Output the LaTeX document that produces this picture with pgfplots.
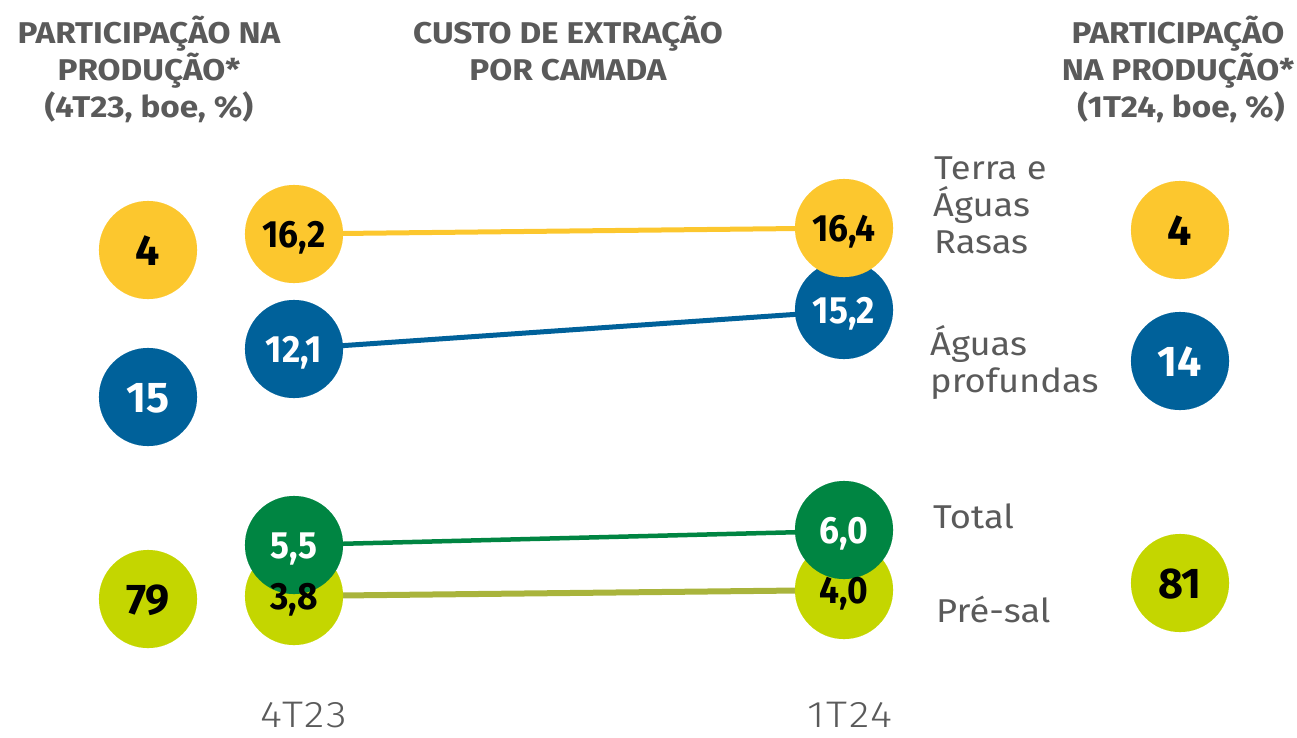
\documentclass[border=0pt]{standalone}
\usepackage{fontspec}
\setmainfont{Fira Sans}
\newfontfamily\numf[FakeStretch=0.93]{Fira Sans}
\newfontfamily\pnumf[FakeStretch=1.0]{Fira Sans}
\newfontfamily\hdrf[FakeStretch=1.11]{Fira Sans}
\newfontfamily\lblf[FakeStretch=1.1]{Fira Sans}
\newfontfamily\lightc[FakeStretch=1.14, LetterSpace=5]{Fira Sans Light}
\usepackage{pgfplots}
\pgfplotsset{compat=1.18}
\definecolor{ylw}{HTML}{FCC72E}
\definecolor{blu}{HTML}{00619A}
\definecolor{grn}{HTML}{008542}
\definecolor{lim}{HTML}{C4D600}
\definecolor{oliv}{HTML}{A9B43C}
\definecolor{txtgray}{HTML}{5A5A5A}
\begin{document}
\begin{tikzpicture}
\begin{axis}[scale only axis, width=1297pt, height=737pt,
  xmin=0, xmax=1297, ymin=0, ymax=737, y dir=reverse,
  hide axis, clip=false]
% connecting lines (4T23 -> 1T24)
\addplot[draw=ylw, line width=5pt, mark=none] coordinates {(294,234) (844,228)};
\addplot[draw=blu, line width=5pt, mark=none] coordinates {(294,349) (844,311)};
\addplot[draw=grn, line width=4.5pt, mark=none] coordinates {(294,545) (844,531)};
\addplot[draw=oliv, line width=6pt, mark=none] coordinates {(294,596) (844,590)};
% circles
\addplot[only marks, mark=*, mark size=49, mark options={draw=lim, line width=0.1pt, fill=lim}]
  coordinates {(294,596) (844,590) (148,599) (1180,583)};
\addplot[only marks, mark=*, mark size=49, mark options={draw=blu, line width=0.1pt, fill=blu}]
  coordinates {(294,349) (844,310) (148,397) (1180,361)};
\addplot[only marks, mark=*, mark size=49, mark options={draw=grn, line width=0.1pt, fill=grn}]
  coordinates {(294,545) (844,530)};
\addplot[only marks, mark=*, mark size=49, mark options={draw=ylw, line width=0.1pt, fill=ylw}]
  coordinates {(294,234) (844,228) (148,250) (1180,230)};
% cost labels in circles
\addplot[draw=none, mark=none, nodes near coords, point meta=explicit symbolic,
  every node near coord/.style={anchor=base, yshift=-13pt, text=black,
    font=\numf\bfseries\fontsize{38}{38}\selectfont}]
  table[meta=lab] {
x y lab
294 234 16,2
844 228 16,4
294 596 3,8
844 590 4,0
};
\addplot[draw=none, mark=none, nodes near coords, point meta=explicit symbolic,
  every node near coord/.style={anchor=base, yshift=-13pt, text=white,
    font=\numf\bfseries\fontsize{38}{38}\selectfont}]
  table[meta=lab] {
x y lab
294 349 12,1
844 310 15,2
294 545 5,5
844 530 6,0
};
% participation labels
\addplot[draw=none, mark=none, nodes near coords, point meta=explicit symbolic,
  every node near coord/.style={anchor=base, yshift=-15pt, text=black,
    font=\pnumf\bfseries\fontsize{43}{43}\selectfont}]
  table[meta=lab] {
x y lab
148 250 4
1180 230 4
148 599 79
1180 583 81
};
\addplot[draw=none, mark=none, nodes near coords, point meta=explicit symbolic,
  every node near coord/.style={anchor=base, yshift=-15pt, text=white,
    font=\pnumf\bfseries\fontsize{43}{43}\selectfont}]
  table[meta=lab] {
x y lab
148 397 15
1180 361 14
};
% headers
\tikzset{hdr/.style={text=txtgray, font=\hdrf\bfseries\fontsize{30}{30}\selectfont, anchor=base, inner sep=0pt}}
\node[hdr] at (axis cs:149,43) {PARTICIPAÇÃO NA};
\node[hdr] at (axis cs:149,80) {PRODUÇÃO*};
\node[hdr] at (axis cs:149,117) {(4T23, boe, \%)};
\node[hdr] at (axis cs:568,43) {CUSTO DE EXTRAÇÃO};
\node[hdr] at (axis cs:568,80) {POR CAMADA};
\node[hdr] at (axis cs:1178,43) {PARTICIPAÇÃO};
\node[hdr] at (axis cs:1178,80) {NA PRODUÇÃO*};
\node[hdr] at (axis cs:1181,117) {(1T24, boe, \%)};
% series names
\tikzset{lbl/.style={text=txtgray, font=\lblf\fontsize{33}{33}\selectfont, anchor=base west, inner sep=0pt}}
\node[lbl] at (axis cs:934,179) {Terra e};
\node[lbl] at (axis cs:933,216) {Águas};
\node[lbl] at (axis cs:934,253) {Rasas};
\node[lbl] at (axis cs:930,355) {Águas};
\node[lbl] at (axis cs:930,392) {profundas};
\node[lbl] at (axis cs:933,528) {Total};
\node[lbl] at (axis cs:936,622) {Pré-sal};
% period labels
\node[text=txtgray, font=\lightc\fontsize{37}{37}\selectfont, anchor=base, inner sep=0pt]
  at (axis cs:304,727) {4T23};
\node[text=txtgray, font=\lightc\fontsize{37}{37}\selectfont, anchor=base, inner sep=0pt]
  at (axis cs:850,727) {1T24};
\end{axis}
\pgfresetboundingbox
\path[use as bounding box] (current axis.south west) rectangle (current axis.north east);
\end{tikzpicture}
\end{document}
